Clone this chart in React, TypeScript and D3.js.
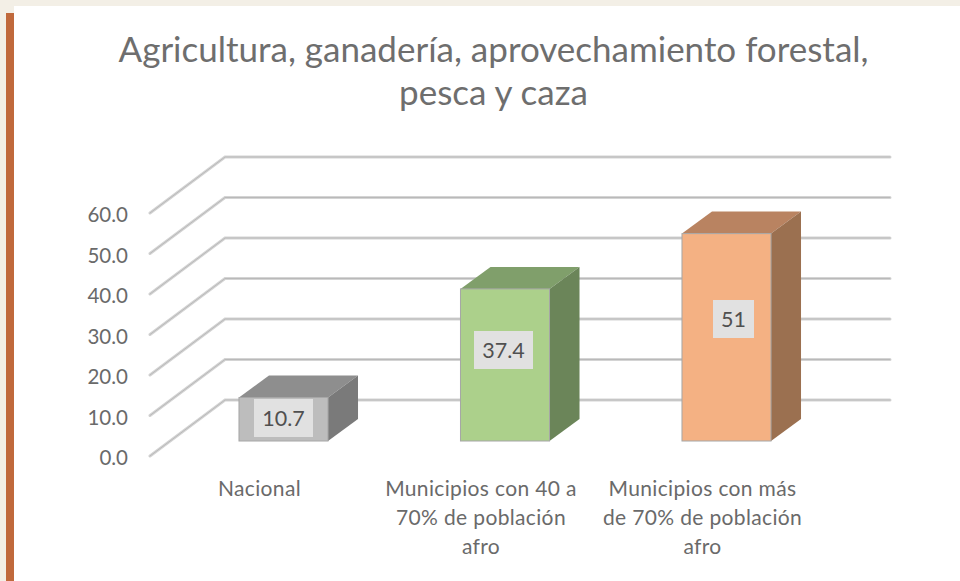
import React from "react";
import * as d3 from "d3";

const categories = ["Nacional", "Municipios con 40 a 70% de población afro", "Municipios con más de 70% de población afro"];
const categoryLines = [
  ["Nacional"],
  ["Municipios con 40 a", "70% de población", "afro"],
  ["Municipios con más", "de 70% de población", "afro"],
];
const values = [10.7, 37.4, 51];
const yTicks = [0, 10, 20, 30, 40, 50, 60];
const titleLines = ["Agricultura, ganadería, aprovechamiento forestal,", "pesca y caza"];
const frontColors = ["#bdbdbd", "#acd08b", "#f4b183"];
const topColors = ["#8e8e8e", "#809f6b", "#b98361"];
const sideColors = ["#7a7a7a", "#6b8559", "#9b7050"];

const W = 960;
const H = 581;
const font = "Lato, 'Open Sans', sans-serif";
const textColor = "#6a6a6a";

// depth of the fake 3d floor, and of the bars standing on it
const wallDx = 75;
const wallDy = -56;
const barDx = 30;
const barDy = -22;

export default function App() {
  const yScale = d3.scaleLinear().domain([0, 60]).range([456, 213]);
  const barY = d3.scaleLinear().domain([0, 60]).range([441, 197]);
  const xScale = d3.scaleBand().domain(categories).range([172.75, 837.25]).paddingInner(0.598).paddingOuter(0.299);
  const fmt = d3.format(".1f");

  // excel puts the labels somewhere around the middle of the 3d bar, not the front
  const labelY = d3.scaleLinear().domain(values).range([418, 350, 319]);
  const labelNudge = [0, -1.5, 7];
  const catShift = -24;

  return (
    <svg width={W} height={H} viewBox={`0 0 ${W} ${H}`} style={{ position: "fixed", left: 0, top: 0 }} fontFamily={font}>
      <rect width={W} height={H} fill="#f3efe6" />
      <rect x={14} y={6} width={W - 14} height={H - 6} fill="#ffffff" />
      <rect x={6} y={13} width={8} height={H - 13} fill="#c0693c" />

      {titleLines.map((t, i) => (
        <text key={t} x={493.5} y={62 + i * 43} textAnchor="middle" fontSize={35} fill="#6e6e6e">
          {t}
        </text>
      ))}

      <g fill="none" strokeLinecap="round">
        {yTicks.map((t) => {
          const p = `M150,${yScale(t)}L${150 + wallDx},${yScale(t) + wallDy}L890,${yScale(t) + wallDy}`;
          return (
            <g key={t}>
              <path d={p} stroke="#d4d4d4" strokeWidth={3} />
              <path d={p} stroke="#b9b9b9" strokeWidth={1} />
            </g>
          );
        })}
      </g>

      {yTicks.map((t) => (
        <text key={t} x={128} y={yScale(t) + 9} textAnchor="end" fontSize={20.5} fill={textColor}>
          {fmt(t)}
        </text>
      ))}

      {categories.map((c, i) => {
        const x0 = xScale(c)!;
        const x1 = x0 + xScale.bandwidth();
        const y0 = barY(0);
        const y1 = barY(values[i]);
        return (
          <g key={c}>
            <path
              d={`M${x0},${y1}L${x0 + barDx},${y1 + barDy}L${x1 + barDx},${y1 + barDy}L${x1},${y1}Z`}
              fill={topColors[i]}
            />
            <path
              d={`M${x1},${y1}L${x1 + barDx},${y1 + barDy}L${x1 + barDx},${y0 + barDy}L${x1},${y0}Z`}
              fill={sideColors[i]}
            />
            <rect x={x0} y={y1} width={x1 - x0} height={y0 - y1} fill={frontColors[i]} stroke="#a6a6a6" strokeWidth={1} />
          </g>
        );
      })}

      {categories.map((c, i) => {
        const label = String(values[i]);
        const cx = xScale(c)! + xScale.bandwidth() / 2 + labelNudge[i];
        const boxW = 23 + label.length * 9;
        const cy = labelY(values[i]);
        return (
          <g key={c}>
            <rect x={cx - boxW / 2} y={cy - 19} width={boxW} height={38} fill="#e1e1e1" />
            <text x={cx} y={cy + 8} textAnchor="middle" fontSize={21.5} fill="#505050">
              {label}
            </text>
          </g>
        );
      })}

      {categories.map((c, i) => (
        <text key={c} textAnchor="middle" fontSize={21} letterSpacing={0.35} fill={textColor}>
          {categoryLines[i].map((line, j) => (
            <tspan key={line} x={xScale(c)! + xScale.bandwidth() / 2 + catShift} y={496 + j * 29.2}>
              {line}
            </tspan>
          ))}
        </text>
      ))}
    </svg>
  );
}
